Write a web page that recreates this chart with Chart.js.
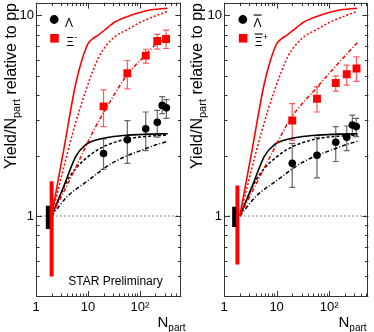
<!DOCTYPE html>
<html>
<head>
<meta charset="utf-8">
<script src="https://cdn.jsdelivr.net/npm/chart.js@4.4.0/dist/chart.umd.min.js"></script>
<style>
  html, body { margin: 0; padding: 0; background: #fff; }
  body { width: 374px; height: 332px; position: relative; overflow: hidden; }
  canvas { position: absolute; top: -3px; }
  #cLeft { left: 0; }
  #cRight { left: 187px; }
</style>
</head>
<body>
<canvas id="cLeft" width="187" height="335"></canvas>
<canvas id="cRight" width="187" height="335"></canvas>
<script>
// Left panel: Lambda and Xi-
const lamN  = [20, 57.5, 130, 217, 270, 325];
const lamY  = [2.05, 2.40, 2.72, 2.93, 3.56, 3.46];
const lamLo = [1.71, 1.83, 2.12, 2.47, 3.24, 3.07];
const lamHi = [2.42, 2.99, 3.30, 3.36, 3.94, 3.80];

const xiN  = [20, 57.5, 130, 217, 320];
const xiY  = [3.52, 5.15, 6.30, 7.46, 7.63];
const xiLo = [2.79, 4.30, 5.78, 6.79, 6.84];
const xiHi = [4.25, 5.96, 6.78, 8.05, 8.45];

// Right panel: anti-Lambda and anti-Xi+
const alamN  = [19.8, 58.5, 133, 215, 275, 326];
const alamY  = [1.83, 2.01, 2.33, 2.47, 2.84, 2.79];
const alamLo = [1.39, 1.55, 1.87, 2.12, 2.54, 2.49];
const alamHi = [2.30, 2.47, 2.79, 2.81, 3.18, 3.07];

const axiN  = [19.8, 58.5, 133, 215, 330];
const axiY  = [2.99, 3.84, 4.60, 5.09, 5.44];
const axiLo = [2.38, 3.30, 4.19, 4.49, 4.69];
const axiHi = [3.63, 4.41, 4.99, 5.65, 6.21];

// model curves
const redSolidN = [2, 3.4, 5.9, 9.7, 12, 16, 24, 33, 60, 140, 340];
const redSolidY = [1, 2.12, 4.63, 7.1, 7.6, 8.0, 8.7, 9.27, 9.9, 10.58, 10.86];
const redDotN = [2, 5.09, 9.1, 16.2, 23.1, 33.1, 60, 105, 335];
const redDotY = [1, 2.59, 4.22, 6.2, 7.13, 7.83, 8.55, 9.27, 10.46];
const redDashDotLeftN = [2, 5.25, 13, 20.1, 55, 130, 217, 335];
const redDashDotLeftY = [1, 1.65, 2.68, 3.28, 4.99, 6.37, 7.27, 7.69];
const redDashDotRightN = [2, 9.9, 17.7, 58.5, 161, 356];
const redDashDotRightY = [1, 2.27, 3.01, 4.38, 5.9, 7.4];
const blackSolidN = [2, 3.4, 5.89, 9.1, 15, 31, 60, 150, 345];
const blackSolidY = [1, 1.40, 1.99, 2.27, 2.40, 2.49, 2.53, 2.56, 2.57];
const blackDashN = [2, 4, 6.5, 10, 16, 31, 60, 150, 345];
const blackDashY = [1, 1.5, 1.78, 1.97, 2.15, 2.32, 2.43, 2.5, 2.53];
const blackDashDotN = [2, 4, 10, 20, 31, 55, 120, 200, 350];
const blackDashDotY = [1, 1.25, 1.5, 1.72, 1.85, 1.99, 2.15, 2.26, 2.36];

// pp normalisation uncertainties [low, high]
const ppLamLeft = [0.862, 1.125], ppXiLeft = [0.50, 1.49];
const ppLamRight = [0.882, 1.113], ppXiRight = [0.573, 1.42];

const yMin = 0.3948, yMax = 11.58;
const FONT = 'Liberation Sans, Arial, sans-serif';

const pts = (xs, ys) => xs.map((x, i) => ({ x, y: ys[i] }));

function curve(xs, ys, color, dash, width, order) {
    return {
        data: pts(xs, ys), showLine: true, pointRadius: 0, borderColor: color,
        borderDash: dash, borderWidth: width, cubicInterpolationMode: 'monotone',
        fill: false, order: order
    };
}

function ppBar(n, range, color, width) {
    return {
        data: [{ x: n, y: range[0] }, { x: n, y: range[1] }], showLine: true,
        pointRadius: 0, borderColor: color, borderWidth: width, borderCapStyle: 'butt', order: 1
    };
}

function logTicks(min, max) {
    const out = [];
    for (let e = -1; e <= 3; e++) for (let m = 1; m <= 9; m++) {
        const v = m * Math.pow(10, e);
        if (v >= min * 0.999 && v <= max * 1.001) out.push({ v, major: m === 1 });
    }
    return out;
}

const decor = {
    id: 'decor',
    beforeDatasetsDraw(chart) {
        const o = chart.options.plugins.decor;
        const ctx = chart.ctx, xs = chart.scales.x, ys = chart.scales.y;
        ctx.save();
        ctx.lineWidth = 1.2;
        o.errors.forEach(s => {
            ctx.strokeStyle = s.color;
            s.n.forEach((n, i) => {
                const x = xs.getPixelForValue(n);
                const y1 = ys.getPixelForValue(s.lo[i]), y2 = ys.getPixelForValue(s.hi[i]);
                ctx.beginPath();
                ctx.moveTo(x, y1); ctx.lineTo(x, y2);
                ctx.moveTo(x - 3, y1); ctx.lineTo(x + 3, y1);
                ctx.moveTo(x - 3, y2); ctx.lineTo(x + 3, y2);
                ctx.stroke();
            });
        });
        ctx.restore();
    },
    afterDraw(chart) {
        const o = chart.options.plugins.decor;
        const ctx = chart.ctx, xs = chart.scales.x, ys = chart.scales.y;
        const a = chart.chartArea;
        const px = x => x - o.offX, py = y => y + 3;
        ctx.save();
        // frame
        ctx.strokeStyle = '#333';
        ctx.lineWidth = 1;
        ctx.strokeRect(Math.round(a.left) + 0.5, Math.round(a.top) + 0.5,
            Math.round(a.right - a.left) - 1, Math.round(a.bottom - a.top) - 1);
        // inward ticks
        ctx.beginPath();
        logTicks(yMin, yMax).forEach(t => {
            const y = Math.round(ys.getPixelForValue(t.v)) + 0.5, len = t.major ? 6 : 3.5;
            ctx.moveTo(a.left, y); ctx.lineTo(a.left + len, y);
            ctx.moveTo(a.right, y); ctx.lineTo(a.right - len, y);
        });
        logTicks(1, o.xMax).forEach(t => {
            const x = Math.round(xs.getPixelForValue(t.v)) + 0.5, len = t.major ? 6 : 3.5;
            ctx.moveTo(x, a.bottom); ctx.lineTo(x, a.bottom - len);
            ctx.moveTo(x, a.top); ctx.lineTo(x, a.top + len);
        });
        ctx.stroke();

        // legend
        ctx.fillStyle = '#000';
        ctx.beginPath();
        ctx.arc(px(o.legX), py(19.5), 4.4, 0, Math.PI * 2);
        ctx.fill();
        ctx.fillStyle = '#f00';
        ctx.fillRect(px(o.legX + 0.3) - 4.3, py(38.3) - 4.3, 8.6, 8.6);
        ctx.fillStyle = '#000';
        ctx.font = '12px ' + FONT;
        ctx.textBaseline = 'alphabetic';
        ctx.fillText('\u039B', px(o.legX + 10.8), py(26.5));
        ctx.fillText('\u039E', px(o.legX + 12), py(45.5));
        ctx.font = '9px ' + FONT;
        ctx.fillText(o.xiSign, px(o.legX + 20), py(40));
        if (o.anti) {
            ctx.fillRect(px(o.legX + 10.8), py(14.5), 8, 1.1);
            ctx.fillRect(px(o.legX + 12), py(33.5), 8, 1.1);
        }

        // y title
        ctx.save();
        ctx.translate(px(o.yTitleX), py(169));
        ctx.rotate(-Math.PI / 2);
        ctx.font = '16px ' + FONT;
        ctx.fillText('Yield/N', 0, 0);
        let w = ctx.measureText('Yield/N').width;
        ctx.font = '11px ' + FONT;
        ctx.fillText('part', w, 4);
        w += ctx.measureText('part').width;
        ctx.font = '16px ' + FONT;
        ctx.fillText(' relative to pp', w, 0);
        ctx.restore();

        // x title
        ctx.font = '15px ' + FONT;
        ctx.fillText('N', px(o.xTitleX), py(327));
        const nw = ctx.measureText('N').width;
        ctx.font = '10px ' + FONT;
        ctx.fillText('part', px(o.xTitleX) + nw, py(330.5));

        if (o.star) {
            ctx.font = '12px ' + FONT;
            ctx.textAlign = 'center';
            ctx.fillText('STAR Preliminary', px(115.5), py(285));
        }
        ctx.restore();
    }
};

function makePanel(id, c) {
    const datasets = [
        { data: pts(c.lamN, c.lamY), pointStyle: 'circle', pointRadius: 3.8, backgroundColor: '#000', borderWidth: 0, order: 0 },
        { data: pts(c.xiN, c.xiY), pointStyle: 'rect', pointRadius: 5.6, backgroundColor: '#f00', borderWidth: 0, order: 0 },
        ppBar(c.ppLamN, c.ppLam, '#000', 4),
        ppBar(c.ppXiN, c.ppXi, '#f00', 4),
        curve(redSolidN, redSolidY, '#f00', [], 1.6, 2),
        curve(redDotN, redDotY, '#f00', [2, 2], 1.5, 2),
        curve(c.rddN, c.rddY, '#f00', [4, 2, 1, 2], 1.5, 2),
        curve(blackSolidN, blackSolidY, '#000', [], 1.6, 2),
        curve(blackDashN, blackDashY, '#000', [3, 2], 1.5, 2),
        curve(blackDashDotN, blackDashDotY, '#000', [4, 2, 1, 2], 1.5, 2),
        curve([1, c.xMax], [1, 1], '#888', [2, 2], 1.2, 3)
    ];
    const zeroPad = s => { s.paddingTop = 0; s.paddingBottom = 0; s.paddingLeft = 0; s.paddingRight = 0; };
    new Chart(document.getElementById(id), {
        type: 'scatter',
        data: { datasets },
        options: {
            responsive: false,
            animation: false,
            layout: { padding: { left: 0, right: c.padRight, top: 0, bottom: 0 } },
            plugins: {
                legend: { display: false },
                tooltip: { enabled: false },
                decor: {
                    offX: c.offX, xMax: c.xMax, legX: c.legX, anti: c.anti, xiSign: c.xiSign,
                    yTitleX: c.yTitleX, xTitleX: c.xTitleX, star: c.star,
                    errors: [
                        { n: c.lamN, lo: c.lamLo, hi: c.lamHi, color: '#666' },
                        { n: c.xiN, lo: c.xiLo, hi: c.xiHi, color: '#ff5a5a' }
                    ]
                }
            },
            scales: {
                x: {
                    type: 'logarithmic', min: 1, max: c.xMax,
                    grid: { display: false, drawTicks: false },
                    border: { display: false },
                    afterFit: s => { s.height = 35; zeroPad(s); },
                    ticks: {
                        autoSkip: false, maxRotation: 0, padding: 3, color: '#000',
                        font: { family: FONT, size: 13 },
                        callback: v => Math.abs(v - 1) < 1e-9 ? '1' : Math.abs(v - 10) < 1e-9 ? '10' : Math.abs(v - 100) < 1e-9 ? '10\u00B2' : ''
                    }
                },
                y: {
                    type: 'logarithmic', min: yMin, max: yMax,
                    grid: { display: false, drawTicks: false },
                    border: { display: false },
                    afterFit: s => { s.width = c.yAxisW; zeroPad(s); },
                    ticks: {
                        autoSkip: false, padding: 2, color: '#000',
                        font: { family: FONT, size: 13 },
                        callback: v => Math.abs(v - 1) < 1e-9 ? '1' : Math.abs(v - 10) < 1e-9 ? '10' : ''
                    }
                }
            }
        },
        plugins: [decor]
    });
}

makePanel('cLeft', {
    lamN, lamY, lamLo, lamHi, xiN, xiY, xiLo, xiHi,
    rddN: redDashDotLeftN, rddY: redDashDotLeftY,
    ppLamN: 1.69, ppLam: ppLamLeft, ppXiN: 2.0, ppXi: ppXiLeft,
    xMax: 632, yAxisW: 36, padRight: 2, offX: 0,
    legX: 54.2, anti: false, xiSign: '-', yTitleX: 15.5, xTitleX: 157.5, star: true
});

makePanel('cRight', {
    lamN: alamN, lamY: alamY, lamLo: alamLo, lamHi: alamHi,
    xiN: axiN, xiY: axiY, xiLo: axiLo, xiHi: axiHi,
    rddN: redDashDotRightN, rddY: redDashDotRightY,
    ppLamN: 1.56, ppLam: ppLamRight, ppXiN: 1.8, ppXi: ppXiRight,
    xMax: 555, yAxisW: 37, padRight: 4, offX: 187,
    legX: 242.8, anti: true, xiSign: '+', yTitleX: 202, xTitleX: 338.5, star: false
});
</script>
</body>
</html>
